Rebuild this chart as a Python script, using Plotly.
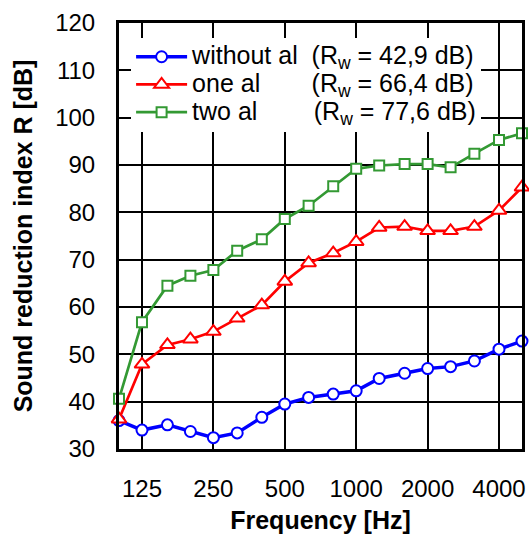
import plotly.graph_objects as go
import math

# ---- data ----
freqs = [100, 125, 160, 200, 250, 315, 400, 500, 630, 800, 1000, 1250, 1600, 2000, 2500, 3150, 4000, 5000]
without_al = [36.0, 34.0, 35.1, 33.7, 32.4, 33.4, 36.7, 39.5, 40.9, 41.6, 42.3, 44.9, 46.0, 47.0, 47.4, 48.6, 51.1, 52.8]
one_al = [36.3, 47.9, 52.0, 53.2, 54.8, 57.6, 60.4, 65.4, 69.3, 71.4, 73.8, 76.8, 77.0, 76.1, 76.1, 77.0, 80.4, 85.3]
two_al = [40.6, 56.8, 64.5, 66.6, 67.8, 71.9, 74.3, 78.6, 81.4, 85.5, 89.2, 89.9, 90.2, 90.2, 89.5, 92.4, 95.3, 96.7]

series_names = ["without al", "one al", "two al"]
rw_values = ["42,9", "66,4", "77,6"]
x_tick_vals = [125, 250, 500, 1000, 2000, 4000]
x_tick_text = ["125", "250", "500", "1000", "2000", "4000"]
y_tick_vals = [30, 40, 50, 60, 70, 80, 90, 100, 110, 120]

# ---- styles ----
colors = ["#0000FF", "#FF0000", "#339933"]
symbols = ["circle", "triangle-up", "square"]
marker_sizes = [11, 13, 10]
line_widths = [3.5, 2.7, 2.7]
pads = ["\u00a0\u00a0",
        "\u00a0\u00a0\u2003\u2002",
        "\u00a0\u00a0\u2003\u2002\u2009"]

FONT = "Liberation Sans, Arial, sans-serif"

fig = go.Figure()
for name, ys, col, sym, ms, lw, rw, pad in zip(series_names, [without_al, one_al, two_al],
                                               colors, symbols, marker_sizes, line_widths,
                                               rw_values, pads):
    label = (f'<span style="font-size:25px">{name}{pad}'
             f'(R<sub>w</sub> = {rw} dB)</span>')
    fig.add_trace(go.Scatter(
        x=freqs, y=ys, mode="lines+markers", name=label,
        line=dict(color=col, width=lw),
        marker=dict(symbol=sym, size=ms, color="white",
                    line=dict(color=col, width=2)),
        cliponaxis=False,
    ))

fig.update_layout(
    width=529, height=536,
    margin=dict(l=119, r=7, t=23, b=87, autoexpand=False),
    paper_bgcolor="white", plot_bgcolor="white",
    font=dict(family=FONT, color="black", size=24),
    showlegend=True,
    legend=dict(x=0.03, y=0.965, xanchor="left", yanchor="top",
                bgcolor="white", borderwidth=0, font=dict(size=19, family=FONT),
                itemwidth=51, tracegroupgap=0),
)

fig.update_xaxes(
    type="log", range=[math.log10(100), math.log10(5000)],
    tickmode="array", tickvals=x_tick_vals, ticktext=x_tick_text,
    showgrid=True, gridcolor="black", gridwidth=1.5,
    showline=True, linecolor="black", linewidth=3, mirror=True,
    ticks="", ticklabelstandoff=16,
    tickfont=dict(size=24, family=FONT),
    zeroline=False,
    title=dict(text="<b>Frequency [Hz]</b>", font=dict(size=25, family=FONT), standoff=11),
)
fig.update_yaxes(
    range=[30, 120], tickmode="array", tickvals=y_tick_vals,
    showgrid=True, gridcolor="black", gridwidth=1.5,
    showline=True, linecolor="black", linewidth=3, mirror=True,
    ticks="", ticklabelstandoff=16,
    tickfont=dict(size=24, family=FONT),
    zeroline=False,
    title=dict(text="<b>Sound reduction index R [dB]</b>", font=dict(size=25, family=FONT), standoff=16),
)

fig.write_html("out.html")
